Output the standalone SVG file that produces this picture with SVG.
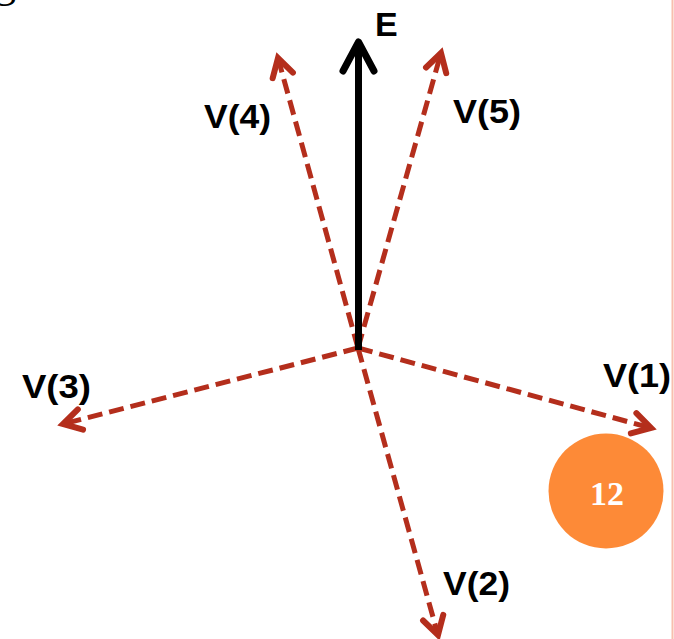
<svg xmlns="http://www.w3.org/2000/svg" width="674" height="639" viewBox="0 0 674 639">
  <defs>
    <style>
      .vec { stroke: #B42E1C; stroke-width: 5; stroke-dasharray: 15 7; fill: none; marker-end: url(#redHead); }
      .lbl { font-family: "Liberation Sans", Arial, sans-serif; font-weight: bold; font-size: 34px; fill: #000; }
    </style>
    <marker id="redHead" markerUnits="userSpaceOnUse" markerWidth="40" markerHeight="40" refX="0" refY="0" viewBox="-25 -20 40 40" orient="auto" overflow="visible">
      <path d="M-18,-10.5 L0,0 L-18,10.5" fill="none" stroke="#B42E1C" stroke-width="6" stroke-linejoin="miter" stroke-linecap="round"/>
    </marker>
  </defs>
  <rect x="0" y="0" width="674" height="639" fill="#ffffff"/>
  <text x="-6" y="-3" font-family="Liberation Serif, serif" font-size="44" fill="#000">g</text>
  <line x1="672.5" y1="0" x2="672.5" y2="639" stroke="#F8BFAE" stroke-width="2"/>

  <g id="connectors">
    <line class="vec" x1="358" y1="348" x2="651" y2="428"/>
    <line class="vec" x1="358" y1="348" x2="438" y2="635"/>
    <line class="vec" x1="358" y1="348" x2="63" y2="424"/>
    <line class="vec" x1="358" y1="348" x2="278" y2="58"/>
    <line class="vec" x1="358" y1="348" x2="441" y2="53"/>
    <g id="E-arrow">
      <line x1="358.5" y1="350" x2="358.5" y2="44" stroke="#000" stroke-width="7"/>
      <path d="M343,71 L358.5,42 L374,71" fill="none" stroke="#000" stroke-width="7" stroke-linecap="round" stroke-linejoin="round"/>
    </g>
  </g>

  <g id="label-E"><text class="lbl" x="375" y="36" font-size="32">E</text></g>
  <g id="label-V1"><text class="lbl" x="603" y="387" textLength="68" lengthAdjust="spacingAndGlyphs">V(1)</text></g>
  <g id="label-V2"><text class="lbl" x="443" y="595" textLength="67" lengthAdjust="spacingAndGlyphs">V(2)</text></g>
  <g id="label-V3"><text class="lbl" x="22" y="398" textLength="69" lengthAdjust="spacingAndGlyphs">V(3)</text></g>
  <g id="label-V4"><text class="lbl" x="204" y="128" textLength="67" lengthAdjust="spacingAndGlyphs">V(4)</text></g>
  <g id="label-V5"><text class="lbl" x="453" y="123" textLength="68" lengthAdjust="spacingAndGlyphs">V(5)</text></g>

  <g id="badge-12">
    <circle cx="606" cy="491" r="57.5" fill="#FD8A37"/>
    <text x="607" y="505" text-anchor="middle" font-family="Liberation Serif, serif" font-weight="bold" font-size="34" fill="#ffffff">12</text>
  </g>
</svg>
